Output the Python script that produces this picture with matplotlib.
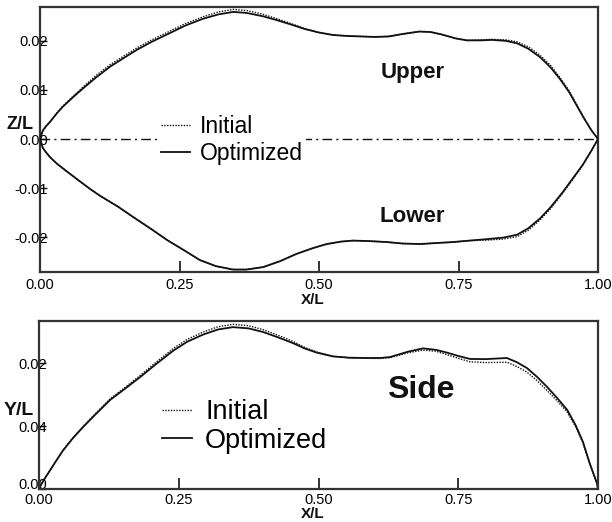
import matplotlib; matplotlib.use("Agg")
import matplotlib.pyplot as plt
from matplotlib.ticker import FixedLocator, FixedFormatter

plt.rcParams['font.family'] = ['Liberation Sans', 'DejaVu Sans']

# top view: upper contour
x_up = [0, 0.005, 0.01, 0.018, 0.03, 0.041, 0.06, 0.077, 0.10, 0.125,
        0.15, 0.174, 0.20, 0.233, 0.26, 0.292, 0.32, 0.346, 0.37, 0.40,
        0.425, 0.448, 0.475, 0.50, 0.525, 0.55, 0.575, 0.60, 0.625, 0.65,
        0.68, 0.70, 0.72, 0.745, 0.765, 0.79, 0.81, 0.835, 0.855, 0.875,
        0.896, 0.915, 0.932, 0.948, 0.962, 0.975, 0.988, 1.0]
z_up_opt = [0, .0017, .0025, .0035, .0052, .0066, .0086, .0103, .0125, .0147,
            .0165, .0182, .0198, .0216, .0231, .0245, .0254, .0259, .0257, .0250,
            .0242, .0234, .0224, .0217, .0212, .0210, .0209, .0208, .0209, .0214,
            .0219, .0218, .0213, .0205, .0201, .0201, .0202, .0200, .0195, .0184,
            .0167, .0146, .0122, .0096, .0068, .0042, .0018, 0]
z_up_init = [0, .0017, .0025, .0035, .0053, .0067, .0088, .0106, .0129, .0151,
             .0169, .0186, .0202, .0220, .0235, .0249, .0259, .0264, .0262, .0254,
             .0245, .0236, .0225, .0217, .0212, .0210, .0209, .0208, .0209, .0214,
             .0219, .0218, .0213, .0205, .0201, .0202, .0203, .0202, .0198, .0188,
             .0171, .0150, .0125, .0099, .0070, .0043, .0018, 0]

# top view: lower contour
x_lo = [0, 0.005, 0.01, 0.018, 0.03, 0.048, 0.07, 0.09, 0.108, 0.14,
        0.167, 0.20, 0.228, 0.26, 0.287, 0.315, 0.346, 0.37, 0.40, 0.43,
        0.46, 0.49, 0.514, 0.54, 0.561, 0.59, 0.622, 0.65, 0.681, 0.71,
        0.74, 0.77, 0.801, 0.83, 0.855, 0.875, 0.896, 0.915, 0.937, 0.955,
        0.973, 0.988, 1.0]
z_lo_opt = [0, -.0018, -.0026, -.0037, -.0050, -.0066, -.0085, -.0102, -.0116, -.0138,
            -.0159, -.0184, -.0206, -.0228, -.0247, -.0259, -.0266, -.0266, -.0261, -.0249,
            -.0234, -.0222, -.0214, -.0209, -.0207, -.0208, -.0210, -.0213, -.0214, -.0212,
            -.0210, -.0207, -.0204, -.0201, -.0195, -.0182, -.0162, -.0139, -.0108, -.0080,
            -.0052, -.0024, 0]
z_lo_init = [0, -.0018, -.0026, -.0037, -.0050, -.0066, -.0085, -.0102, -.0116, -.0138,
             -.0159, -.0184, -.0206, -.0228, -.0247, -.0259, -.0266, -.0266, -.0261, -.0249,
             -.0234, -.0222, -.0214, -.0209, -.0207, -.0208, -.0210, -.0213, -.0214, -.0212,
             -.0210, -.0207, -.0206, -.0204, -.0199, -.0186, -.0165, -.0142, -.0110, -.0082,
             -.0053, -.0024, 0]

# side view
x_side = [0, 0.004, 0.01, 0.02, 0.03, 0.043, 0.06, 0.079, 0.10, 0.127,
          0.155, 0.181, 0.21, 0.24, 0.265, 0.293, 0.32, 0.347, 0.375, 0.401,
          0.43, 0.454, 0.475, 0.497, 0.526, 0.555, 0.587, 0.61, 0.628, 0.66,
          0.687, 0.71, 0.73, 0.75, 0.771, 0.80, 0.837, 0.855, 0.873, 0.891,
          0.909, 0.927, 0.945, 0.96, 0.973, 0.985, 0.998, 1.0]
y_side_opt = [0, .003, .0065, .012, .0175, .0245, .032, .0394, .047, .0565,
              .064, .0711, .0795, .0878, .0935, .098, .1013, .1028, .102, .0997,
              .096, .0927, .0893, .0866, .0842, .0834, .0832, .0832, .0838, .0872,
              .0893, .0884, .0866, .0845, .0826, .0825, .0832, .0805, .0768, .0712,
              .0648, .0578, .0502, .0405, .030, .0165, .0038, 0]
y_side_init = [0, .003, .0065, .012, .0176, .0247, .0323, .0398, .0475, .0572,
               .0648, .0721, .0807, .0892, .0950, .0996, .1030, .1046, .1037, .1012,
               .0973, .0938, .0900, .0870, .0843, .0833, .0830, .0829, .0834, .0865,
               .0882, .0875, .0853, .0830, .0808, .0803, .0805, .0778, .0742, .0688,
               .0625, .0560, .0488, .0395, .0292, .0162, .0038, 0]

x_ticks = [0.0, 0.25, 0.5, 0.75, 1.0]
x_labels = ["0.00", "0.25", "0.50", "0.75", "1.00"]
z_ticks = [0.02, 0.01, 0.0, -0.01, -0.02]
z_labels = ["0.02", "0.01", "0.00", "-0.01", "-0.02"]
y_ticks = [0.08, 0.04, 0.0]
y_labels = ["0.02", "0.04", "0.00"]

K = "#111111"
fig = plt.figure(figsize=(6.12, 5.22), dpi=100)
ax1 = fig.add_axes([40 / 612, 1 - 272 / 522, 558 / 612, 265 / 522])
ax2 = fig.add_axes([39 / 612, 1 - 489 / 522, 559 / 612, 168 / 522])

for ax in (ax1, ax2):
    for sp in ax.spines.values():
        sp.set_linewidth(1.6); sp.set_color("#333333")
    ax.set_xlim(0, 1)
    ax.xaxis.set_major_locator(FixedLocator(x_ticks))
    ax.xaxis.set_major_formatter(FixedFormatter(x_labels))
    ax.tick_params(axis="x", direction="in", length=8, width=1.2, pad=4, labelsize=10.5, color=K)
    ax.tick_params(axis="y", direction="in", length=5, width=1.0, pad=-6, labelsize=10.5, color=K)
    ax.tick_params(top=False, right=False)
ax2.tick_params(axis="x", pad=3)

# top panel
ax1.axhline(0, color=K, lw=1.0, ls=(0, (7, 3, 1.5, 3)), zorder=1)
ax1.plot(x_up, z_up_init, color=K, lw=1.0, ls=(0, (1, 1)), label="Initial", zorder=2)
ax1.plot(x_up, z_up_opt, color=K, lw=1.3, label="Optimized", zorder=3)
ax1.plot(x_lo, z_lo_init, color=K, lw=1.0, ls=(0, (1, 1)), zorder=2)
ax1.plot(x_lo, z_lo_opt, color=K, lw=1.3, zorder=3)
ax1.set_ylim(-0.0271, 0.0269)
ax1.yaxis.set_major_locator(FixedLocator(z_ticks))
ax1.yaxis.set_major_formatter(FixedFormatter(z_labels))
leg1 = ax1.legend(loc="upper left", bbox_to_anchor=(0.21, 0.605), fontsize=16.5, frameon=True,
                  facecolor="white", edgecolor="none", framealpha=1, handlelength=1.3,
                  handletextpad=0.4, labelspacing=0.15, borderpad=0.15, borderaxespad=0)
leg1.set_zorder(4)
ax1.text(0.668, 0.0135, "Upper", fontsize=16, fontweight="bold", ha="center", va="center", color=K)
ax1.text(0.668, -0.0157, "Lower", fontsize=16, fontweight="bold", ha="center", va="center", color=K)
ax1.text(-0.036, 0.555, "Z/L", transform=ax1.transAxes, fontsize=13, fontweight="bold",
         ha="center", va="center", color=K)
ax1.text(0.489, -0.105, "X/L", transform=ax1.transAxes, fontsize=11, fontweight="bold",
         ha="center", va="center", color=K)

# bottom panel
ax2.plot(x_side, y_side_init, color=K, lw=1.0, ls=(0, (1, 1)), label="Initial")
ax2.plot(x_side, y_side_opt, color=K, lw=1.3, label="Optimized")
ax2.set_ylim(0, 0.1067)
ax2.yaxis.set_major_locator(FixedLocator(y_ticks))
ax2.yaxis.set_major_formatter(FixedFormatter(y_labels))
ax2.get_yticklabels()[-1].set_va("baseline")
ax2.legend(loc="upper left", bbox_to_anchor=(0.21, 0.565), fontsize=19.5, frameon=False,
           handlelength=1.1, handletextpad=0.5, labelspacing=0.08, borderpad=0.2, borderaxespad=0)
ax2.text(0.683, 0.0629, "Side", fontsize=23, fontweight="bold", ha="center", va="center", color=K)
ax2.text(-0.036, 0.47, "Y/L", transform=ax2.transAxes, fontsize=14, fontweight="bold",
         ha="center", va="center", color=K)
ax2.text(0.49, -0.19, "X/L", transform=ax2.transAxes, fontsize=11, fontweight="bold",
         ha="center", va="bottom", color=K)

fig.savefig("out.png", dpi=100)
